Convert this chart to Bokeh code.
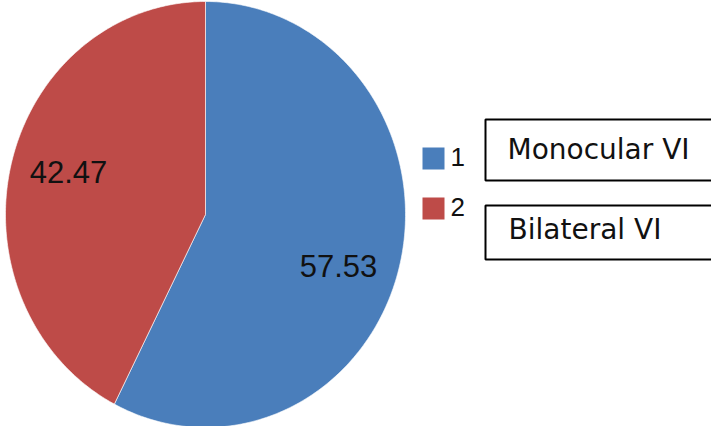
import numpy as np
from bokeh.plotting import figure
from bokeh.models import Range1d
from bokeh.core.properties import value
from bokeh.embed import file_html
from bokeh.resources import INLINE

# ---- data ----
categories = ["1", "2"]
names = ["Monocular VI", "Bilateral VI"]
values = [57.53, 42.47]
labels = ["57.53", "42.47"]
colors = ["#4A7EBB", "#BE4B48"]

# ---- layout (page pixel coordinates) ----
W, H = 711, 426
cx, cy, rx, ry = 213, 222, 200, 213
label_pos = [(346, 273), (76, 179)]
legend_sq_x = 441
legend_sq_y = [166, 216]
legend_num_y = [164, 214]
box_tops = [127, 213]
box_bottoms = [188, 267]
box_text_mid = [157, 237]
box_text_x = [515, 516]

p = figure(width=W, height=H, output_backend="svg", toolbar_location=None,
           x_range=Range1d(8, 8 + W), y_range=Range1d(8 + H, 8),
           min_border=0)
p.axis.visible = False
p.grid.visible = False
p.outline_line_color = None
p.background_fill_color = "white"
p.border_fill_color = "white"

# pie slices (clockwise from 12 o'clock)
total = sum(values)
start = 0.0
xs, ys = [], []
for v in values:
    end = start + v / total * 2 * np.pi
    t = np.linspace(start, end, 200)
    xs.append(list(np.concatenate([[cx], cx + rx * np.sin(t), [cx]])))
    ys.append(list(np.concatenate([[cy], cy - ry * np.cos(t), [cy]])))
    start = end
p.patches(xs, ys, fill_color=colors, line_color="white", line_width=1, line_alpha=0.6)

# data labels
p.text(x=[q[0] for q in label_pos], y=[q[1] for q in label_pos], text=labels,
       text_align="center", text_baseline="middle", text_font=value("Liberation Sans"),
       text_font_size="31px", text_color="#111111")

# legend squares and numbers
p.rect(x=[legend_sq_x] * 2, y=legend_sq_y, width=22, height=22, fill_color=colors, line_color=None)
p.text(x=[458] * 2, y=legend_num_y, text=categories, text_align="left", text_baseline="middle",
       text_font=value("Liberation Sans"), text_font_size="26px", text_color="#111111")

# boxes with category names
p.quad(left=[493, 493], right=[745, 745], top=box_tops, bottom=box_bottoms,
       fill_color="white", line_color="black", line_width=2)
p.text(x=box_text_x, y=box_text_mid, text=names, text_align="left", text_baseline="middle",
       text_font=value("DejaVu Sans"), text_font_size="28px", text_color="#111111")

open("out.html", "w").write(file_html(p, INLINE))
